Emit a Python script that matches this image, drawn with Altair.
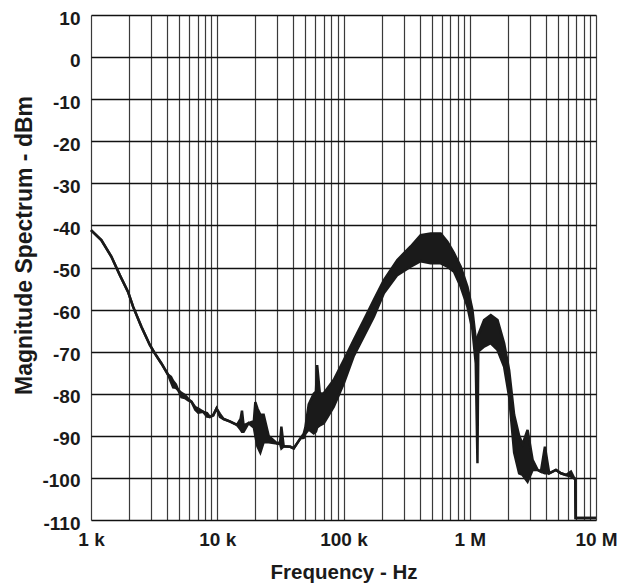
import altair as alt
import pandas as pd

# Frequency (Hz), upper and lower envelope (dBm) of the measured spectrum
freq = [1000, 1207, 1449, 1690, 1966, 2154, 2507, 2924, 3203, 3613, 4084, 4300,
        4475, 4700, 4903, 5200, 5541, 5900, 6252, 6700, 7068, 7743, 8300, 8750,
        9300, 9870, 10500, 11220, 12680, 14330, 15300, 15700, 16170, 17720,
        19500, 20030, 20800, 21940, 23310, 25530, 29770, 31500, 32200, 33600,
        37960, 40330, 45600, 48400, 49900, 53050, 58100, 60500, 61850, 65000,
        69800, 83800, 100600, 120700, 144900, 174000, 208800, 266800, 340200,
        408400, 490300, 588800, 665300, 750500, 848400, 958700, 1050000,
        1116000, 1151000, 1168000, 1299000, 1468000, 1659000, 1872000, 2051000,
        2247000, 2462000, 2620000, 2870000, 3145000, 3446000, 3660000, 3938000,
        4261000, 4815000, 5276000, 5781000, 6333000, 6727000, 6850000, 6900000,
        10000000]
upper = [-41.1, -43.5, -47.4, -51.8, -55.8, -59.3, -64.1, -68.4, -70.4, -72.8,
         -75.5, -76.0, -77.0, -77.8, -79.1, -79.8, -80.3, -81.2, -81.9, -83.2,
         -83.5, -84.3, -84.6, -85.5, -85.0, -83.5, -84.8, -86.0, -86.6, -87.4,
         -86.0, -84.0, -87.5, -87.0, -86.5, -82.0, -83.5, -85.0, -85.0, -90.0,
         -91.8, -91.5, -87.8, -92.5, -92.6, -93.0, -90.6, -89.5, -88.0, -82.5,
         -80.0, -79.5, -73.2, -80.0, -79.9, -76.7, -72.0, -67.2, -62.5, -57.7,
         -53.0, -48.2, -45.0, -42.3, -41.9, -41.9, -43.9, -46.6, -49.8, -54.6,
         -60.1, -67.2, -67.0, -66.0, -62.5, -61.3, -62.5, -68.0, -74.4, -85.0,
         -90.0, -92.0, -88.6, -95.7, -98.1, -98.5, -92.6, -98.9, -98.1, -98.9,
         -99.3, -98.5, -100.1, -100.2, -109.5, -109.5]
lower = [-41.1, -43.5, -47.4, -51.8, -55.8, -59.3, -64.1, -68.4, -70.4, -72.8,
         -75.5, -77.2, -78.5, -78.6, -79.1, -80.8, -81.0, -81.6, -81.9, -83.8,
         -84.5, -84.3, -85.4, -85.5, -85.2, -83.5, -85.5, -86.0, -86.6, -87.4,
         -88.5, -89.0, -89.0, -87.0, -88.0, -90.0, -92.5, -94.0, -91.5, -91.5,
         -91.8, -92.0, -93.0, -92.5, -92.6, -93.0, -90.6, -90.5, -89.5, -88.5,
         -89.4, -89.0, -88.0, -87.5, -87.0, -83.1, -77.5, -71.0, -66.4, -61.7,
         -56.1, -51.8, -49.8, -48.5, -49.0, -49.0, -49.8, -51.0, -54.6, -59.3,
         -64.8, -72.8, -96.5, -70.0, -68.8, -68.0, -69.6, -73.6, -80.7, -94.0,
         -98.9, -99.3, -100.9, -98.1, -98.1, -98.5, -98.9, -98.9, -98.1, -98.9,
         -99.3, -99.7, -100.1, -100.2, -109.5, -109.5]

x_grid = [m * 10 ** e for e in range(3, 7) for m in range(1, 10)] + [10 ** 7]
y_ticks = list(range(-110, 11, 10))

df = pd.DataFrame({"freq": freq, "upper": upper, "lower": lower})

FONT = "Liberation Sans"
INK = "#1a1a1a"

xscale = alt.Scale(type="log", domain=[1000, 10000000], nice=False)
yscale = alt.Scale(domain=[-110, 10], nice=False)

label_expr = ("datum.value == 1000 ? '1 k' : datum.value == 10000 ? '10 k' : "
              "datum.value == 100000 ? '100 k' : datum.value == 1000000 ? '1 M' : "
              "datum.value == 10000000 ? '10 M' : ''")

x_enc = alt.X("freq:Q", scale=xscale,
              axis=alt.Axis(values=x_grid, labelExpr=label_expr, title="Frequency - Hz",
                            grid=True, gridColor="#3a3a3a", gridWidth=1.2, gridOpacity=1,
                            ticks=False, domain=False, labelOverlap=False, labelFlush=False,
                            labelFont=FONT, labelFontSize=19, labelFontWeight="bold",
                            labelColor=INK, labelPadding=10,
                            titleFont=FONT, titleFontSize=20.5, titleFontWeight="bold",
                            titleColor=INK, titlePadding=13))

base = alt.Chart(df)

area = base.mark_area(color=INK, opacity=1).encode(
    x=x_enc,
    y=alt.Y("lower:Q", scale=yscale,
            axis=alt.Axis(values=y_ticks, title="Magnitude Spectrum - dBm",
                          labelExpr="'' + datum.value",
                          grid=True, gridColor="#111111", gridWidth=1.5, gridOpacity=1,
                          ticks=False, domain=False, labelOverlap=False,
                          labelFont=FONT, labelFontSize=19, labelFontWeight="bold",
                          labelColor=INK, labelPadding=11, labelOffset=3,
                          titleFont=FONT, titleFontSize=23, titleFontWeight="bold",
                          titleColor=INK, titleX=-67, titleY=230,
                          titleAlign="center", titleBaseline="middle", titleAngle=270)),
    y2="upper:Q",
)

line_up = base.mark_line(color=INK, strokeWidth=2.5).encode(
    x=alt.X("freq:Q", scale=xscale), y=alt.Y("upper:Q", scale=yscale))
line_lo = base.mark_line(color=INK, strokeWidth=2.5).encode(
    x=alt.X("freq:Q", scale=xscale), y=alt.Y("lower:Q", scale=yscale))

chart = alt.layer(area, line_up, line_lo).properties(
    width=505, height=505,
    autosize=alt.AutoSizeParams(type="none"),
    padding={"left": 83, "top": 7, "right": 24, "bottom": 68},
).configure_view(stroke=INK, strokeWidth=2.5).configure(background="white")

chart.save("out.html", embed_options={"renderer": "svg", "actions": False})
